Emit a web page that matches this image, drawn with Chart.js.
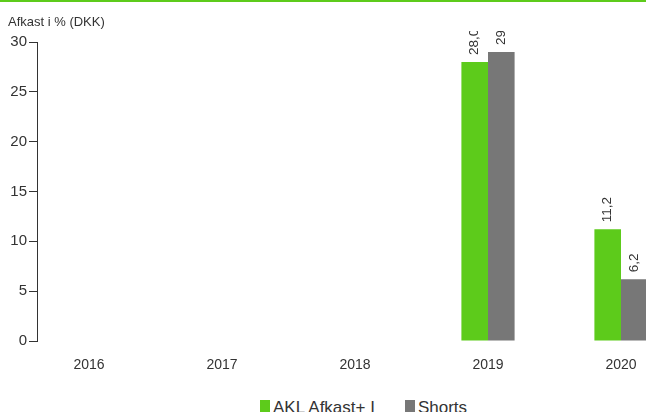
<!DOCTYPE html>
<html>
<head>
<meta charset="utf-8">
<script src="https://cdn.jsdelivr.net/npm/chart.js@4/dist/chart.umd.min.js"></script>
<style>
  html, body { margin: 0; padding: 0; background: #fff; overflow: hidden; }
  #wrap { position: relative; width: 646px; height: 410px; border-top: 2px solid #5dcb1b; }
  #box { position: absolute; left: 0; top: 0; width: 646px; height: 380px; }
  #legend { position: absolute; left: 260px; top: 396px; font: 17px "Liberation Sans", Arial, sans-serif; color: #333; white-space: nowrap; line-height: 20px; }
  #legend span.item { display: inline-block; margin-right: 30px; }
  #legend i { display: inline-block; width: 10px; height: 14px; margin-right: 3px; vertical-align: -1px; }
</style>
</head>
<body>
<div id="wrap">
  <div id="box"><canvas id="chart"></canvas></div>
  <div id="legend"></div>
</div>
<script>
const years = [2016, 2017, 2018, 2019, 2020];
const aklValues = [null, null, null, 28.0, 11.2];
const shortsValues = [null, null, null, 29, 6.2];
const seriesNames = ["AKL Afkast+ I", "Shorts"];
const seriesColors = ["#5dcb1b", "#777777"];
const yTicks = [0, 5, 10, 15, 20, 25, 30];
const axisTitle = "Afkast i % (DKK)";

const FONT = '"Liberation Sans", Arial, sans-serif';
const TEXT = "#333333";

// value formatting: green keeps one decimal, grey drops trailing zeros
const fmt = [
  v => v.toFixed(1).replace(".", ","),
  v => String(v).replace(".", ",")
];

const valueLabels = {
  id: "valueLabels",
  afterDatasetsDraw(chart) {
    const ctx = chart.ctx;
    ctx.save();
    ctx.beginPath();
    ctx.rect(0, 29, chart.width, chart.height);
    ctx.clip();
    ctx.font = "13.5px " + FONT;
    ctx.fillStyle = TEXT;
    ctx.textAlign = "left";
    ctx.textBaseline = "middle";
    chart.data.datasets.forEach((ds, di) => {
      chart.getDatasetMeta(di).data.forEach((bar, i) => {
        const v = ds.data[i].y;
        if (v == null) return;
        ctx.save();
        ctx.translate(bar.x, bar.y - 7);
        ctx.rotate(-Math.PI / 2);
        ctx.fillText(fmt[di](v), 0, 0);
        ctx.restore();
      });
    });
    ctx.restore();

    ctx.save();
    ctx.font = "13px " + FONT;
    ctx.fillStyle = TEXT;
    ctx.textBaseline = "middle";
    ctx.fillText(axisTitle, 8, 20);
    ctx.restore();
  }
};

const chart = new Chart(document.getElementById("chart"), {
  type: "bar",
  data: {
    datasets: [
      { label: seriesNames[0], data: years.map((y, i) => ({ x: y, y: aklValues[i] })), backgroundColor: seriesColors[0] },
      { label: seriesNames[1], data: years.map((y, i) => ({ x: y, y: shortsValues[i] })), backgroundColor: seriesColors[1] }
    ]
  },
  options: {
    responsive: true,
    maintainAspectRatio: false,
    animation: false,
    categoryPercentage: 0.4,
    barPercentage: 1,
    layout: { padding: { top: 40, left: 0, right: 0, bottom: 0 } },
    plugins: { legend: { display: false }, tooltip: { enabled: false } },
    scales: {
      x: {
        type: "linear",
        offset: false,
        min: 2016 - 52 / 133,
        max: 2020 + 25 / 133,
        grid: { display: false, offset: false },
        border: { display: false },
        ticks: {
          stepSize: 1,
          includeBounds: false,
          padding: 8,
          color: TEXT,
          font: { family: FONT, size: 14 },
          callback: v => years.includes(v) ? String(v) : ""
        },
        afterFit: s => { s.height = 41; s.paddingLeft = 0; s.paddingRight = 0; }
      },
      y: {
        min: 0,
        max: 30,
        grid: { drawOnChartArea: false, drawTicks: true, tickLength: 8, color: TEXT },
        border: { display: true, color: TEXT, width: 1 },
        ticks: {
          stepSize: 5,
          padding: 2,
          color: TEXT,
          font: { family: FONT, size: 15 },
          callback: v => yTicks.includes(v) ? String(v) : ""
        },
        afterFit: s => { s.width = 37; }
      }
    }
  },
  plugins: [valueLabels]
});

document.getElementById("legend").innerHTML = chart.data.datasets.map(ds =>
  `<span class="item"><i style="background:${ds.backgroundColor}"></i>${ds.label}</span>`
).join("");
</script>
</body>
</html>
